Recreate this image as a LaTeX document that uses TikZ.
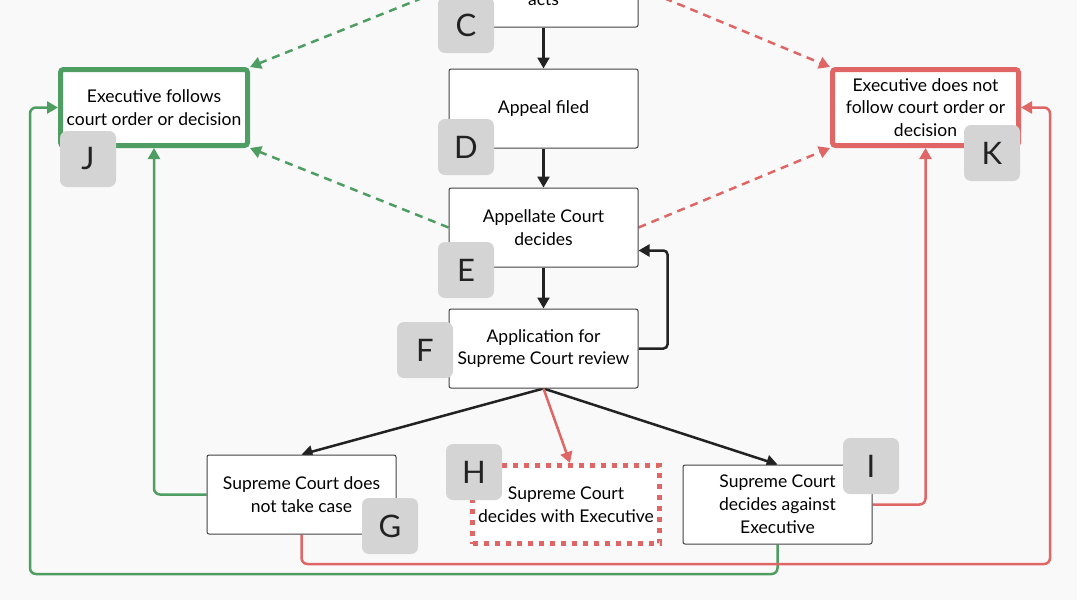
\documentclass[tikz,border=0pt]{standalone}
\usepackage{fontspec}
\setmainfont{Lato}
\usetikzlibrary{arrows.meta}
\definecolor{bg}{HTML}{F9F9F9}
\definecolor{grn}{HTML}{4E9D62}
\definecolor{rd}{HTML}{E06666}
\definecolor{lbl}{HTML}{D4D4D4}
\definecolor{ink}{HTML}{222222}
\pgfdeclarelayer{back}
\pgfdeclarelayer{conn}
\pgfsetlayers{back,conn,main}
\begin{document}
\begin{tikzpicture}[x=1pt,y=-1pt,
  box/.style={draw=ink!85, line width=1pt, fill=white, rounded corners=2pt,
    minimum width=189pt, minimum height=79pt, align=center, inner sep=0pt,
    font=\fontsize{17.5}{22.8}\selectfont},
  gbox/.style={box, draw=grn, line width=5pt, rounded corners=3pt, minimum width=187pt, minimum height=76pt},
  rbox/.style={box, draw=rd, line width=5pt, rounded corners=3pt, minimum width=186pt, minimum height=76pt},
  hbox/.style={box, draw=rd, line width=5pt, rounded corners=0pt, dash pattern=on 5pt off 6pt, minimum width=187pt, minimum height=78pt},
  lab/.style={fill=lbl, rounded corners=7pt, minimum size=56pt, inner sep=0pt,
    font=\fontsize{31}{33}\selectfont, text=ink},
  flow/.style={draw=ink, line width=2.5pt, -{Triangle[length=11pt,width=12pt]}},
  gline/.style={draw=grn, line width=2.5pt, rounded corners=6pt, -{Triangle[length=11pt,width=12pt]}},
  rline/.style={draw=rd, line width=2.5pt, rounded corners=6pt, -{Triangle[length=11pt,width=12pt]}},
  gdash/.style={gline, dash pattern=on 8pt off 6pt},
  rdash/.style={rline, dash pattern=on 8pt off 6pt},
]
\begin{pgfonlayer}{back}
\path[use as bounding box, fill=bg] (0,0) rectangle (1077,600);
\end{pgfonlayer}
\clip (0,0) rectangle (1077,600);

% boxes
\node[box] (C) at (543.5,-12.5) {};
\node[anchor=base, font=\fontsize{17.5}{22.8}\selectfont] (Ct) at (543.5,5) {acts};
\node[box] (D) at (543.5,108.5) {Appeal filed};
\node[box] (E) at (543.5,227.5) {Appellate Court\\decides};
\node[box] (F) at (543.5,348.5) {Application for\\Supreme Court review};
\node[box] (G) at (301.5,494.5) {Supreme Court does\\not take case};
\node[hbox] (H) at (566,504.5) {Supreme Court\\decides with Executive};
\node[box] (I) at (777.5,504.5) {Supreme Court\\decides against\\Executive};
\node[gbox] (J) at (154,107.5) {Executive follows\\court order or decision};
\node[rbox] (K) at (925.5,107.5) {Executive does not\\follow court order or\\decision};

\coordinate (gbl) at (30,574);
\coordinate (rbr) at (1050,564);

% connectors behind boxes
\begin{pgfonlayer}{conn}
\draw[gline] (I.south) |- (gbl) |- (J.west);
\draw[rline] (G.south) |- (rbr) |- (K.east);
\draw[gline] (G.west) -| (J.south);
\draw[rline] (I.east) -| (K.south);
\draw[gdash] (C.west) -- (J.north east);
\draw[gdash] (E.west) -- (J.south east);
\draw[rdash] (C.east) -- (K.north west);
\draw[rdash] (E.east) -- (K.south west);
\draw[flow] (C.south) -- (D.north);
\draw[flow] (D.south) -- (E.north);
\draw[flow] (E.south) -- (F.north);
\draw[flow, rounded corners=4pt] (F.east) -- ++(29,0) |- ([yshift=-23pt]E.east);
\draw[flow] (F.south) -- (G.north);
\draw[flow] (F.south) -- (I.north);
\draw[rline] (F.south) -- ([xshift=4pt]H.north);
\end{pgfonlayer}

% labels
\node[lab] (LC) at (466,25) {C};
\node[lab] (LD) at (466,147) {D};
\node[lab] (LE) at (466,270) {E};
\node[lab] (LF) at (425,350) {F};
\node[lab] (LG) at (390,526) {G};
\node[lab] (LH) at (474,472) {H};
\node[lab] (LI) at (871,466) {I};
\node[lab] (LJ) at (88,159) {J};
\node[lab] (LK) at (992,153) {K};
\end{tikzpicture}
\end{document}
